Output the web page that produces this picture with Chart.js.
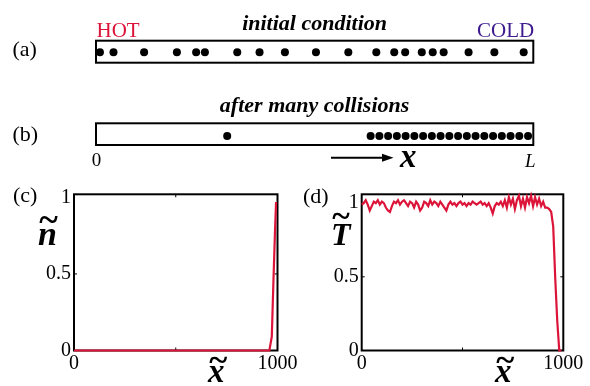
<!DOCTYPE html>
<html>
<head>
<meta charset="utf-8">
<script src="https://cdn.jsdelivr.net/npm/chart.js@4.4.1/dist/chart.umd.min.js"></script>
<style>
  body { margin: 0; background: #fff; }
  #wrap { position: relative; width: 590px; height: 386px; overflow: hidden; background: #fff; }
  #wrap canvas { position: absolute; left: 0; top: 0; }
  .lbl { position: absolute; white-space: nowrap; font-family: "Liberation Serif", "Times New Roman", serif; color: #000; }
</style>
</head>
<body>
<div id="wrap">
  <canvas id="chartA" width="590" height="386"></canvas>
  <canvas id="chartB" width="590" height="386"></canvas>
  <canvas id="chartC" width="590" height="386"></canvas>
  <canvas id="chartD" width="590" height="386"></canvas>
</div>
<script>
// particle positions along the tube, as fraction of L
const initialPos = [0.009, 0.040, 0.110, 0.185, 0.229, 0.249, 0.323, 0.374, 0.432, 0.503,
                    0.577, 0.641, 0.682, 0.707, 0.745, 0.770, 0.795, 0.852, 0.911, 0.978];
const finalPos = [0.300, 0.628, 0.648, 0.668, 0.688, 0.708, 0.728, 0.748, 0.768, 0.788,
                  0.808, 0.828, 0.848, 0.868, 0.888, 0.908, 0.928, 0.948, 0.968, 0.988];

// density profile n~(x~)
const densX = [0, 960, 972, 980, 988, 993];
const densY = [0, 0, 0.09, 0.45, 0.79, 0.97];

// temperature profile T~(x~)
const tempX = [0, 10, 20, 30, 40, 50, 60, 70, 80, 90,
               100, 110, 120, 130, 140, 150, 160, 170, 180, 190,
               200, 210, 220, 230, 240, 250, 260, 270, 280, 290,
               300, 310, 320, 330, 340, 350, 360, 370, 380, 390,
               400, 410, 420, 430, 440, 450, 460, 470, 480, 490,
               500, 510, 520, 530, 540, 550, 560, 570, 580, 590,
               600, 610, 620, 630, 640, 650, 660, 670, 680, 690,
               700, 710, 720, 730, 740, 750, 760, 770, 780, 790,
               800, 810, 820, 830, 840, 850, 860, 870, 880, 890,
               900, 910, 920, 930, 940, 950, 960, 970, 980, 990];
const tempY = [0.99, 1.00, 1.02, 0.99, 0.95, 0.98, 1.01, 1.00, 1.02, 0.99,
               1.01, 1.00, 0.97, 0.95, 0.94, 0.98, 1.01, 1.00, 1.02, 0.99,
               1.01, 1.02, 1.00, 0.98, 1.01, 1.00, 0.97, 1.01, 0.99, 0.95,
               0.97, 1.01, 1.00, 0.98, 1.02, 0.99, 1.01, 1.00, 0.98, 1.01,
               0.99, 0.97, 0.95, 0.99, 1.01, 0.99, 1.00, 0.98, 1.00, 1.01,
               0.99, 1.00, 0.98, 1.00, 0.99, 1.01, 1.00, 0.99, 1.00, 1.01,
               0.99, 1.00, 0.98, 1.00, 0.97, 0.93, 0.98, 1.00, 0.99, 1.01,
               0.98, 1.02, 0.97, 1.04, 0.99, 1.03, 0.96, 1.02, 1.05, 0.98,
               1.03, 0.97, 1.04, 1.00, 1.05, 0.98, 1.04, 0.99, 1.03, 0.98,
               1.01, 0.97, 0.97, 0.96, 0.94, 0.84, 0.49, 0.20, 0.00, 0.00];

const xTicks = [0, 1000];
const yTicks = [0, 0.5, 1];

const RED = '#dc1439';
const SERIF = '"Liberation Serif", "Times New Roman", serif';

// box outline + small inward ticks
const framePlugin = {
    id: 'frame',
    beforeDatasetsDraw(chart, args, opts) {
        const {left, top, right, bottom} = chart.chartArea;
        const ctx = chart.ctx;
        ctx.save();
        ctx.strokeStyle = '#000';
        ctx.lineWidth = opts.width || 2;
        ctx.strokeRect(left, top, right - left, bottom - top);
        if (opts.ticks) {
            const xm = chart.scales.x.getPixelForValue(500);
            const ym = chart.scales.y.getPixelForValue(0.5);
            ctx.lineWidth = 1;
            ctx.beginPath();
            ctx.moveTo(xm, top); ctx.lineTo(xm, top + 3);
            ctx.moveTo(xm, bottom); ctx.lineTo(xm, bottom - 3);
            ctx.moveTo(left, ym); ctx.lineTo(left + 3, ym);
            ctx.moveTo(right, ym); ctx.lineTo(right - 3, ym);
            ctx.stroke();
        }
        ctx.restore();
    }
};

function getTubeConfig(positions, box, yMin) {
    return {
        type: 'scatter',
        data: {
            datasets: [
                {
                    data: positions.map(p => ({x: p, y: 0})),
                    backgroundColor: '#000',
                    borderWidth: 0,
                    pointRadius: 4,
                    clip: false
                }
            ]
        },
        options: {
            responsive: false,
            animation: false,
            events: [],
            layout: {
                padding: {left: box.left, top: box.top, right: 590 - box.right, bottom: 386 - box.bottom}
            },
            plugins: {
                legend: {display: false},
                tooltip: {enabled: false},
                frame: {width: 2}
            },
            scales: {
                x: {type: 'linear', display: false, min: 0, max: 1},
                y: {type: 'linear', display: false, min: yMin, max: 1}
            }
        },
        plugins: [framePlugin]
    };
}

function getProfileConfig(xs, ys, area, yMax) {
    return {
        type: 'line',
        data: {
            datasets: [
                {
                    data: xs.map((x, i) => ({x: x, y: ys[i]})),
                    borderColor: RED,
                    borderWidth: 2.2,
                    pointRadius: 0,
                    tension: 0,
                    fill: false,
                    clip: 3
                }
            ]
        },
        options: {
            responsive: false,
            animation: false,
            events: [],
            layout: {
                padding: {left: 0, top: area.top, right: 590 - area.right, bottom: 0}
            },
            plugins: {
                legend: {display: false},
                tooltip: {enabled: false},
                frame: {width: 2, ticks: true}
            },
            scales: {
                x: {
                    type: 'linear',
                    min: 0,
                    max: 1000,
                    afterBuildTicks: (scale) => { scale.ticks = xTicks.map(v => ({value: v})); },
                    afterFit: (scale) => { scale.height = 386 - area.bottom; },
                    grid: {display: false, drawTicks: false},
                    border: {display: false},
                    ticks: {
                        autoSkip: false,
                        maxRotation: 0,
                        padding: 1,
                        color: '#000',
                        font: {family: SERIF, size: 20},
                        callback: (v) => String(v)
                    }
                },
                y: {
                    type: 'linear',
                    min: 0,
                    max: yMax,
                    afterBuildTicks: (scale) => { scale.ticks = yTicks.map(v => ({value: v})); },
                    afterFit: (scale) => { scale.width = area.left; },
                    grid: {display: false, drawTicks: false},
                    border: {display: false},
                    ticks: {
                        padding: 3,
                        color: '#000',
                        font: {family: SERIF, size: 20},
                        callback: (v) => String(v)
                    }
                }
            }
        },
        plugins: [framePlugin]
    };
}

new Chart(document.getElementById('chartA'),
    getTubeConfig(initialPos, {left: 96, top: 40.7, right: 533.3, bottom: 62.7}, -0.9));
new Chart(document.getElementById('chartB'),
    getTubeConfig(finalPos, {left: 96, top: 123.3, right: 533.3, bottom: 145}, -0.71));
new Chart(document.getElementById('chartC'),
    getProfileConfig(densX, densY, {left: 74, top: 194.3, right: 277.5, bottom: 350.5}, 1.02));
new Chart(document.getElementById('chartD'),
    getProfileConfig(tempX, tempY, {left: 361.7, top: 194.3, right: 563.3, bottom: 350.5}, 1.06));

// text labels, placed by baseline
const wrap = document.getElementById('wrap');
function addText(text, x, base, size, opts) {
    opts = opts || {};
    const el = document.createElement('div');
    el.className = 'lbl';
    el.textContent = text;
    el.style.fontSize = size + 'px';
    el.style.lineHeight = size + 'px';
    el.style.top = (base - 0.8375 * size) + 'px';
    el.style.left = x + 'px';
    if (opts.bold) el.style.fontWeight = 'bold';
    if (opts.italic) el.style.fontStyle = 'italic';
    if (opts.color) el.style.color = opts.color;
    if (opts.center) el.style.transform = 'translateX(-50%)';
    wrap.appendChild(el);
    return el;
}
// letter with a wide tilde above it
function addTilde(letter, x, base, size, tildeBase) {
    addText(letter, x, base, size, {bold: true, italic: true});
    addText('~', x + size * 0.04, tildeBase, size * 1.05, {bold: true});
}

addText('(a)', 12.5, 56.6, 22);
addText('(b)', 12.5, 141.7, 22);
addText('(c)', 13, 202.5, 22);
addText('(d)', 303, 203.5, 22);

addText('HOT', 96.5, 37.3, 21, {color: RED});
addText('COLD', 477, 37.3, 21, {color: '#3d1a8e'});
addText('initial condition', 314.6, 30.5, 22, {bold: true, italic: true, center: true});
addText('after many collisions', 314.6, 112, 22, {bold: true, italic: true, center: true});

addText('0', 91.7, 166, 19);
addText('L', 525, 166.7, 19, {italic: true});
addText('x', 400, 167.3, 33, {bold: true, italic: true});

addTilde('n', 38, 245, 34, 232);
addTilde('T', 331, 245, 32, 227);
addTilde('x', 208, 383, 33, 371);
addTilde('x', 495, 383, 33, 371);

// arrow next to x
const svgNS = 'http://www.w3.org/2000/svg';
const svg = document.createElementNS(svgNS, 'svg');
svg.setAttribute('width', '66');
svg.setAttribute('height', '12');
svg.style.position = 'absolute';
svg.style.left = '331px';
svg.style.top = '151.5px';
const shaft = document.createElementNS(svgNS, 'line');
shaft.setAttribute('x1', '0'); shaft.setAttribute('y1', '5.8');
shaft.setAttribute('x2', '54'); shaft.setAttribute('y2', '5.8');
shaft.setAttribute('stroke', '#000'); shaft.setAttribute('stroke-width', '2');
const head = document.createElementNS(svgNS, 'polygon');
head.setAttribute('points', '51,1.8 62.5,5.8 51,9.8');
head.setAttribute('fill', '#000');
svg.appendChild(shaft);
svg.appendChild(head);
wrap.appendChild(svg);
</script>
</body>
</html>
